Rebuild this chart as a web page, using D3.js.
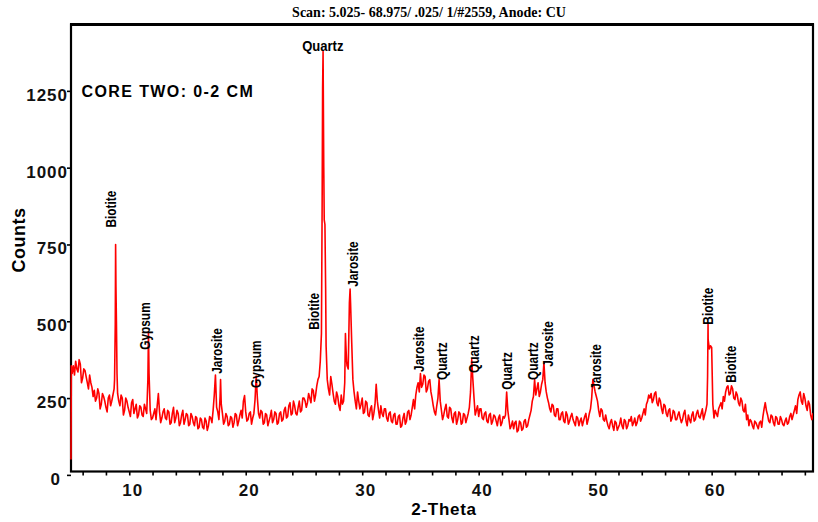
<html>
<head>
<meta charset="utf-8">
<title>XRD scan - core two 0-2 cm</title>
</head>
<style>
  body { margin: 0; background: #fff; }
  .trace { fill: none; stroke: #ff0000; stroke-width: 1.6px; stroke-linejoin: round; }
  .frame { fill: none; stroke: #000; stroke-width: 2.2px; }
  .tick line { stroke: #000; stroke-width: 1.6px; }
  .tick text { font-family: Arial, "Liberation Sans", sans-serif; font-weight: bold; font-size: 17px; letter-spacing: 1px; fill: #111; }
  .mineral { font-family: Arial, "Liberation Sans", sans-serif; font-weight: bold; font-size: 14.5px; fill: #000; }
</style>
<body>
<script src="https://cdn.jsdelivr.net/npm/d3@7"></script>
<script>

// scan: 5.0 deg start, 0.1 deg step (counts)
var scanStart = 5.0,
    scanStep = 0.1;

var scanCounts = [
  50, 330, 355, 325, 370, 345, 335, 375, 360, 300, 315, 345, 340, 320, 300, 280, 325, 300, 285, 255,        // 5
  275, 240, 250, 280, 265, 215, 230, 265, 255, 240, 220, 205, 250, 260, 225, 240, 260, 280, 490, 500,       // 7
  265, 240, 225, 260, 250, 195, 210, 250, 240, 220, 205, 190, 235, 245, 200, 215, 230, 185, 195, 225,       // 9
  220, 195, 190, 230, 215, 200, 310, 330, 210, 180, 185, 200, 215, 180, 225, 265, 205, 170, 185, 205,       // 11
  215, 185, 180, 210, 205, 165, 170, 200, 220, 170, 185, 210, 200, 160, 170, 195, 210, 165, 180, 200,       // 13
  195, 160, 165, 200, 190, 170, 160, 190, 185, 150, 155, 185, 180, 155, 150, 185, 175, 145, 160, 190,       // 15
  185, 170, 210, 260, 325, 220, 205, 180, 255, 230, 200, 165, 175, 200, 190, 160, 165, 190, 185, 155,       // 17
  170, 200, 195, 160, 175, 195, 210, 185, 240, 258, 205, 175, 180, 200, 205, 165, 185, 200, 245, 322,       // 19
  250, 200, 185, 210, 205, 165, 170, 200, 195, 160, 175, 190, 210, 170, 180, 205, 200, 165, 170, 200,       // 21
  205, 175, 180, 210, 220, 185, 190, 225, 235, 195, 200, 240, 225, 200, 195, 220, 240, 205, 210, 250,       // 23
  250, 240, 220, 235, 265, 250, 235, 280, 275, 240, 260, 290, 310, 320, 370, 460, 1260, 1000, 815, 420,     // 25
  310, 280, 260, 320, 295, 265, 240, 230, 270, 255, 225, 210, 260, 230, 240, 300, 420, 355, 345, 560,       // 27
  560, 430, 310, 270, 240, 215, 270, 240, 215, 230, 250, 200, 205, 240, 235, 195, 190, 215, 225, 180,       // 29
  200, 230, 295, 240, 210, 185, 225, 200, 190, 215, 215, 185, 175, 200, 205, 175, 170, 195, 200, 165,       // 31
  165, 190, 195, 155, 160, 185, 200, 165, 175, 205, 210, 180, 195, 220, 245, 215, 260, 285, 300, 270,       // 33
  330, 285, 295, 325, 320, 270, 280, 305, 310, 270, 250, 225, 205, 195, 225, 250, 310, 240, 210, 180,       // 35
  195, 215, 230, 190, 185, 220, 215, 185, 170, 200, 205, 165, 180, 205, 200, 165, 170, 200, 195, 170,       // 37
  185, 200, 220, 270, 375, 310, 250, 195, 210, 225, 190, 215, 215, 185, 180, 200, 205, 175, 170, 195,       // 39
  200, 165, 175, 195, 190, 175, 160, 185, 195, 160, 170, 190, 185, 195, 270, 210, 180, 150, 160, 175,       // 41
  150, 170, 175, 140, 145, 175, 170, 145, 150, 175, 180, 155, 160, 180, 195, 210, 240, 255, 310, 260,       // 43
  280, 300, 255, 270, 295, 310, 365, 300, 270, 250, 235, 215, 205, 230, 225, 195, 190, 215, 215, 180,       // 45
  180, 200, 205, 175, 170, 205, 195, 165, 175, 190, 200, 180, 170, 160, 190, 185, 160, 175, 185, 160,       // 47
  175, 190, 200, 165, 180, 200, 215, 250, 310, 290, 270, 255, 240, 210, 190, 215, 210, 180, 175, 195,       // 49
  175, 160, 150, 170, 180, 160, 145, 175, 170, 145, 155, 165, 185, 160, 150, 180, 175, 150, 160, 180,       // 51
  175, 190, 160, 170, 185, 160, 170, 190, 195, 175, 185, 200, 215, 195, 230, 240, 260, 250, 265, 235,       // 53
  245, 265, 270, 235, 225, 250, 240, 215, 200, 230, 225, 200, 190, 210, 215, 175, 185, 210, 205, 180,       // 55
  180, 195, 205, 185, 170, 180, 200, 210, 175, 160, 195, 180, 170, 195, 205, 175, 180, 200, 210, 190,       // 57
  185, 200, 215, 180, 195, 210, 230, 440, 410, 420, 415, 230, 185, 210, 200, 190, 215, 225, 235, 215,       // 59
  255, 240, 270, 285, 290, 260, 265, 290, 280, 250, 245, 270, 260, 235, 225, 250, 240, 210, 205, 230,       // 61
  180, 195, 160, 180, 175, 160, 150, 175, 170, 160, 150, 170, 175, 155, 190, 215, 235, 210, 195, 175,       // 63
  170, 195, 190, 170, 160, 190, 185, 165, 165, 190, 180, 165, 160, 175, 185, 165, 170, 190, 200, 180,       // 65
  195, 210, 225, 200, 245, 260, 270, 240, 230, 265, 250, 225, 210, 240, 230, 195, 180, 200, 175, 170        // 67
];

// extra points on the sharp peaks [2-theta, counts]
var peakDetail = [
  [5.03, 355],
  [8.74, 310], [8.83, 750], [8.86, 610], [8.95, 330],
  [11.65, 465],
  [17.84, 310],
  [26.56, 880], [26.64, 1378], [26.74, 830], [26.86, 610],
  [28.56, 460], [28.66, 370], [28.96, 605],
  [59.65, 320], [59.69, 490]
];

var mineralNames  = ["Biotite", "Gypsum", "Jarosite", "Gypsum", "Biotite", "Quartz", "Jarosite", "Jarosite",
                     "Quartz", "Quartz", "Quartz", "Quartz", "Jarosite", "Jarosite", "Biotite", "Biotite"];
var mineralTheta  = [8.43, 11.35, 17.53, 20.91, 25.85, 26.62, 29.24, 34.90,
                     36.87, 39.62, 42.40, 44.63, 45.92, 50.08, 59.65, 61.62];
var mineralCounts = [805, 407, 329, 283, 472, 1381, 612, 335,
                     309, 332, 277, 309, 352, 277, 489, 300];
var mineralUpright = [false, false, false, false, false, true, false, false,
                      false, false, false, false, false, false, false, false];

var xTicks = [6, 8, 10, 12, 14, 16, 18, 20, 22, 24, 26, 28, 30, 32, 34, 36,
              38, 40, 42, 44, 46, 48, 50, 52, 54, 56, 58, 60, 62, 64, 66, 68];
var yTicks = [0, 250, 500, 750, 1000, 1250];

var titleText = "Scan: 5.025- 68.975/ .025/ 1/#2559, Anode: CU";
var sampleText = "CORE TWO: 0-2 CM";

var width = 818,
    height = 522;
var plotLeft = 71, plotRight = 813, plotTop = 24.5, plotBottom = 471.5;

var svg = d3.select("body").append("svg")
    .attr("width", width)
    .attr("height", height);

var x = d3.scaleLinear().domain([5, 68.7]).range([plotLeft, plotRight]);
var y = d3.scaleLinear().domain([11, 1466]).range([plotBottom, plotTop]);

svg.append("defs").append("clipPath").attr("id", "plotclip")
    .append("rect")
    .attr("x", plotLeft - 2).attr("y", plotTop)
    .attr("width", plotRight - plotLeft + 2).attr("height", plotBottom - plotTop);

// title
svg.append("text")
    .attr("x", 429).attr("y", 17)
    .attr("text-anchor", "middle")
    .style("font-family", "'Liberation Serif', 'Times New Roman', serif")
    .style("font-weight", "bold")
    .style("font-size", "14px")
    .text(titleText);

// axes
var xAxis = d3.axisBottom(x)
    .tickValues(xTicks)
    .tickSize(4)
    .tickPadding(8)
    .tickFormat(function(d) { return d % 10 === 0 ? d : ""; });

svg.append("g")
    .attr("transform", "translate(0," + plotBottom + ")")
    .call(xAxis)
    .call(function(g) { g.select(".domain").remove(); })
    .selectAll("text").attr("dx", 3);

var yAxis = d3.axisLeft(y)
    .tickValues(yTicks)
    .tickSize(4)
    .tickPadding(-1)
    .tickFormat(d3.format("d"));

svg.append("g")
    .attr("transform", "translate(" + plotLeft + ",0)")
    .call(yAxis)
    .call(function(g) { g.select(".domain").remove(); })
    .selectAll("text")
    .attr("dy", "0.55em")
    .attr("dx", function(d) { return d === 0 ? -7 : 0; });

// frame
svg.append("rect")
    .attr("class", "frame")
    .attr("x", plotLeft).attr("y", plotTop)
    .attr("width", plotRight - plotLeft).attr("height", plotBottom - plotTop);
svg.append("line")
    .attr("x1", plotLeft - 1).attr("x2", plotRight + 1)
    .attr("y1", plotTop).attr("y2", plotTop)
    .style("stroke", "#000").style("stroke-width", "3px");

// trace (drawn over the frame, as in the scan printout)
var points = scanCounts.map(function(c, i) {
        return [scanStart + i * scanStep, c];
    })
    .concat(peakDetail)
    .sort(function(a, b) { return a[0] - b[0]; });

var line = d3.line()
    .x(function(d) { return x(d[0]); })
    .y(function(d) { return y(d[1]); });

svg.append("path")
    .datum(points)
    .attr("class", "trace")
    .attr("clip-path", "url(#plotclip)")
    .attr("d", line);

// axis titles
svg.append("text")
    .attr("x", 444).attr("y", 515)
    .attr("text-anchor", "middle")
    .style("font-family", "Arial, 'Liberation Sans', sans-serif")
    .style("font-weight", "bold")
    .style("font-size", "17px")
    .style("letter-spacing", "0.7px")
    .text("2-Theta");

svg.append("text")
    .attr("transform", "translate(25,240) rotate(-90)")
    .attr("text-anchor", "middle")
    .style("font-family", "Arial, 'Liberation Sans', sans-serif")
    .style("font-weight", "bold")
    .style("font-size", "18px")
    .style("letter-spacing", "0.5px")
    .text("Counts");

svg.append("text")
    .attr("x", 81.5).attr("y", 97)
    .style("font-family", "Arial, 'Liberation Sans', sans-serif")
    .style("font-weight", "bold")
    .style("font-size", "16px")
    .style("letter-spacing", "1.4px")
    .text(sampleText);

// phase labels
svg.append("g").selectAll("text")
    .data(mineralNames)
    .enter()
    .append("text")
    .attr("class", "mineral")
    .attr("text-anchor", function(d, i) { return mineralUpright[i] ? "middle" : "start"; })
    .attr("dy", function(d, i) { return mineralUpright[i] ? 0 : "0.35em"; })
    .attr("transform", function(d, i) {
        var t = "translate(" + x(mineralTheta[i]) + "," + y(mineralCounts[i]) + ")";
        return mineralUpright[i] ? t + " scale(0.9,1)" : t + " rotate(-90) scale(0.82,1)";
    })
    .text(function(d) { return d; });

</script>
</body>
</html>
